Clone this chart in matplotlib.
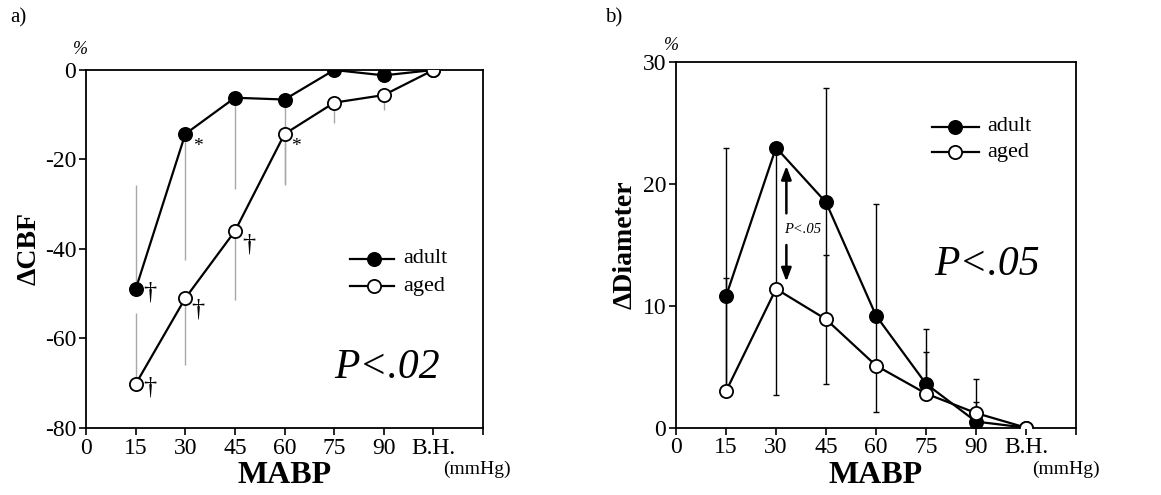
import matplotlib
matplotlib.use("Agg")
import matplotlib.pyplot as plt
import numpy as np

plt.rcParams['font.family'] = ['Liberation Serif', 'DejaVu Serif']
plt.rcParams['axes.unicode_minus'] = False

# MABP levels (mmHg); 105 is the baseline position labelled "B.H."
mabp = [15, 30, 45, 60, 75, 90, 105]
tick_pos = [0, 15, 30, 45, 60, 75, 90, 105, 120]
tick_labels = ['0', '15', '30', '45', '60', '75', '90', 'B.H.', '']

# Panel a: change in cerebral blood flow (%)
cbf_adult = [-49.0, -14.3, -6.2, -6.6, 0.0, -1.2, 0.0]
cbf_aged = [-70.2, -51.0, -36.0, -14.3, -7.3, -5.6, 0.0]
cbf_adult_err_lo = [0.0, 28.2, 20.4, 19.0, 0.0, 0.0, 0.0]
cbf_adult_err_hi = [23.2, 0.0, 0.0, 0.0, 0.0, 0.0, 0.0]
cbf_aged_err_lo = [0.0, 15.0, 15.4, 11.2, 4.5, 3.3, 0.0]
cbf_aged_err_hi = [15.8, 0.0, 0.0, 0.0, 0.0, 0.0, 0.0]

# Panel b: change in vessel diameter (%)
dia_adult = [10.8, 23.0, 18.5, 9.2, 3.6, 0.5, 0.0]
dia_aged = [3.0, 11.4, 8.9, 5.1, 2.8, 1.2, 0.0]
dia_adult_err_lo = [7.8, 20.3, 9.4, 0.0, 0.0, 0.0, 0.0]
dia_adult_err_hi = [12.2, 0.0, 9.4, 9.2, 4.5, 3.5, 0.0]
dia_aged_err_lo = [0.0, 0.0, 5.3, 3.8, 0.0, 0.0, 0.0]
dia_aged_err_hi = [9.3, 0.0, 5.3, 3.8, 3.4, 0.9, 0.0]

fig = plt.figure(figsize=(11.61, 4.95), dpi=100)
axa = fig.add_axes([0.0741, 0.1354, 0.342, 0.7232])
axb = fig.add_axes([0.5823, 0.136, 0.3445, 0.738])

line_kw = dict(color='black', lw=1.6, zorder=3)
adult_kw = dict(marker='o', ms=9.5, mfc='black', mec='black', mew=1.3)
aged_kw = dict(marker='o', ms=9.5, mfc='white', mec='black', mew=1.3)


def style_axes(ax, ylim, yticks, unit_x):
    ax.set_xlim(0, 120)
    ax.set_ylim(*ylim)
    ax.set_xticks(tick_pos)
    ax.set_xticklabels(tick_labels)
    ax.set_yticks(yticks)
    ax.tick_params(direction='out', length=5, width=1.2, labelsize=17, pad=2)
    for s in ax.spines.values():
        s.set_linewidth(1.3)
    ax.text(unit_x, -0.09, '(mmHg)', transform=ax.transAxes, fontsize=14,
            ha='left', va='top')
    ax.set_xlabel('MABP', fontsize=23, fontweight='bold', labelpad=2)


# ---- panel a ----
axa.errorbar(mabp, cbf_adult, yerr=[cbf_adult_err_lo, cbf_adult_err_hi],
             fmt='none', ecolor='#a8a8a8', elinewidth=1.0, zorder=1)
axa.errorbar(mabp, cbf_aged, yerr=[cbf_aged_err_lo, cbf_aged_err_hi],
             fmt='none', ecolor='#a8a8a8', elinewidth=1.0, zorder=1)
axa.plot(mabp, cbf_adult, **line_kw, **adult_kw)
axa.plot(mabp, cbf_aged, **line_kw, **aged_kw)
style_axes(axa, (-80, 0), [-80, -60, -40, -20, 0], 0.9)
axa.set_ylabel('ΔCBF', fontsize=20, fontweight='bold', labelpad=2)
axa.text(-0.013, 1.056, '%', transform=axa.transAxes, fontsize=13,
         style='italic', ha='center', va='center')

for x, y, s in [(33.7, -17.0, '*'), (63.5, -17.0, '*')]:
    axa.text(x, y, s, fontsize=14, ha='center', va='center')
for x, y in [(19.3, -49.8), (19.3, -71.0), (33.8, -53.5), (49.2, -39.0)]:
    axa.text(x, y, '†', fontsize=19, ha='center', va='center')

axa.plot([79.7, 93.1], [-42.2, -42.2], **line_kw)
axa.plot([87], [-42.2], **adult_kw, color='black', zorder=4)
axa.plot([79.7, 93.1], [-48.3, -48.3], **line_kw)
axa.plot([87], [-48.3], **aged_kw, color='black', zorder=4)
axa.text(96, -42.2, 'adult', fontsize=16, va='center', ha='left')
axa.text(96, -48.3, 'aged', fontsize=16, va='center', ha='left')
axa.text(106.8, -66.5, 'P<.02', fontsize=30, style='italic', ha='right',
         va='center')

# ---- panel b ----
axb.errorbar(mabp, dia_adult, yerr=[dia_adult_err_lo, dia_adult_err_hi],
             fmt='none', ecolor='black', elinewidth=1.0, capsize=2,
             capthick=1.0, zorder=1)
axb.errorbar(mabp, dia_aged, yerr=[dia_aged_err_lo, dia_aged_err_hi],
             fmt='none', ecolor='black', elinewidth=1.0, capsize=2,
             capthick=1.0, zorder=1)
axb.plot(mabp, dia_adult, **line_kw, **adult_kw)
axb.plot(mabp, dia_aged, **line_kw, **aged_kw)
style_axes(axb, (0, 30), [0, 10, 20, 30], 0.89)
axb.set_ylabel('ΔDiameter', fontsize=20, fontweight='bold', labelpad=4)
axb.text(-0.011, 1.047, '%', transform=axb.transAxes, fontsize=13,
         style='italic', ha='center', va='center')

arrow_kw = dict(arrowstyle='-|>,head_width=0.3,head_length=0.8', lw=1.8,
                color='black', shrinkA=0, shrinkB=0)
axb.annotate('', xy=(33.1, 21.5), xytext=(33.1, 17.6), arrowprops=arrow_kw)
axb.annotate('', xy=(33.1, 12.0), xytext=(33.1, 15.0), arrowprops=arrow_kw)
axb.text(32.3, 16.3, 'P<.05', fontsize=10.5, style='italic', ha='left',
         va='center')

axb.plot([76.8, 90.8], [24.7, 24.7], **line_kw)
axb.plot([83.8], [24.7], **adult_kw, color='black', zorder=4)
axb.plot([76.8, 90.8], [22.6, 22.6], **line_kw)
axb.plot([83.8], [22.6], **aged_kw, color='black', zorder=4)
axb.text(93.4, 24.7, 'adult', fontsize=16, va='center', ha='left')
axb.text(93.4, 22.6, 'aged', fontsize=16, va='center', ha='left')
axb.text(77.4, 13.4, 'P<.05', fontsize=30, style='italic', ha='left',
         va='center')

fig.text(10 / 1161, 1 - 18 / 495, 'a)', fontsize=15, ha='left', va='center')
fig.text(605 / 1161, 1 - 18 / 495, 'b)', fontsize=15, ha='left', va='center')

fig.savefig('out.png', dpi=100)
